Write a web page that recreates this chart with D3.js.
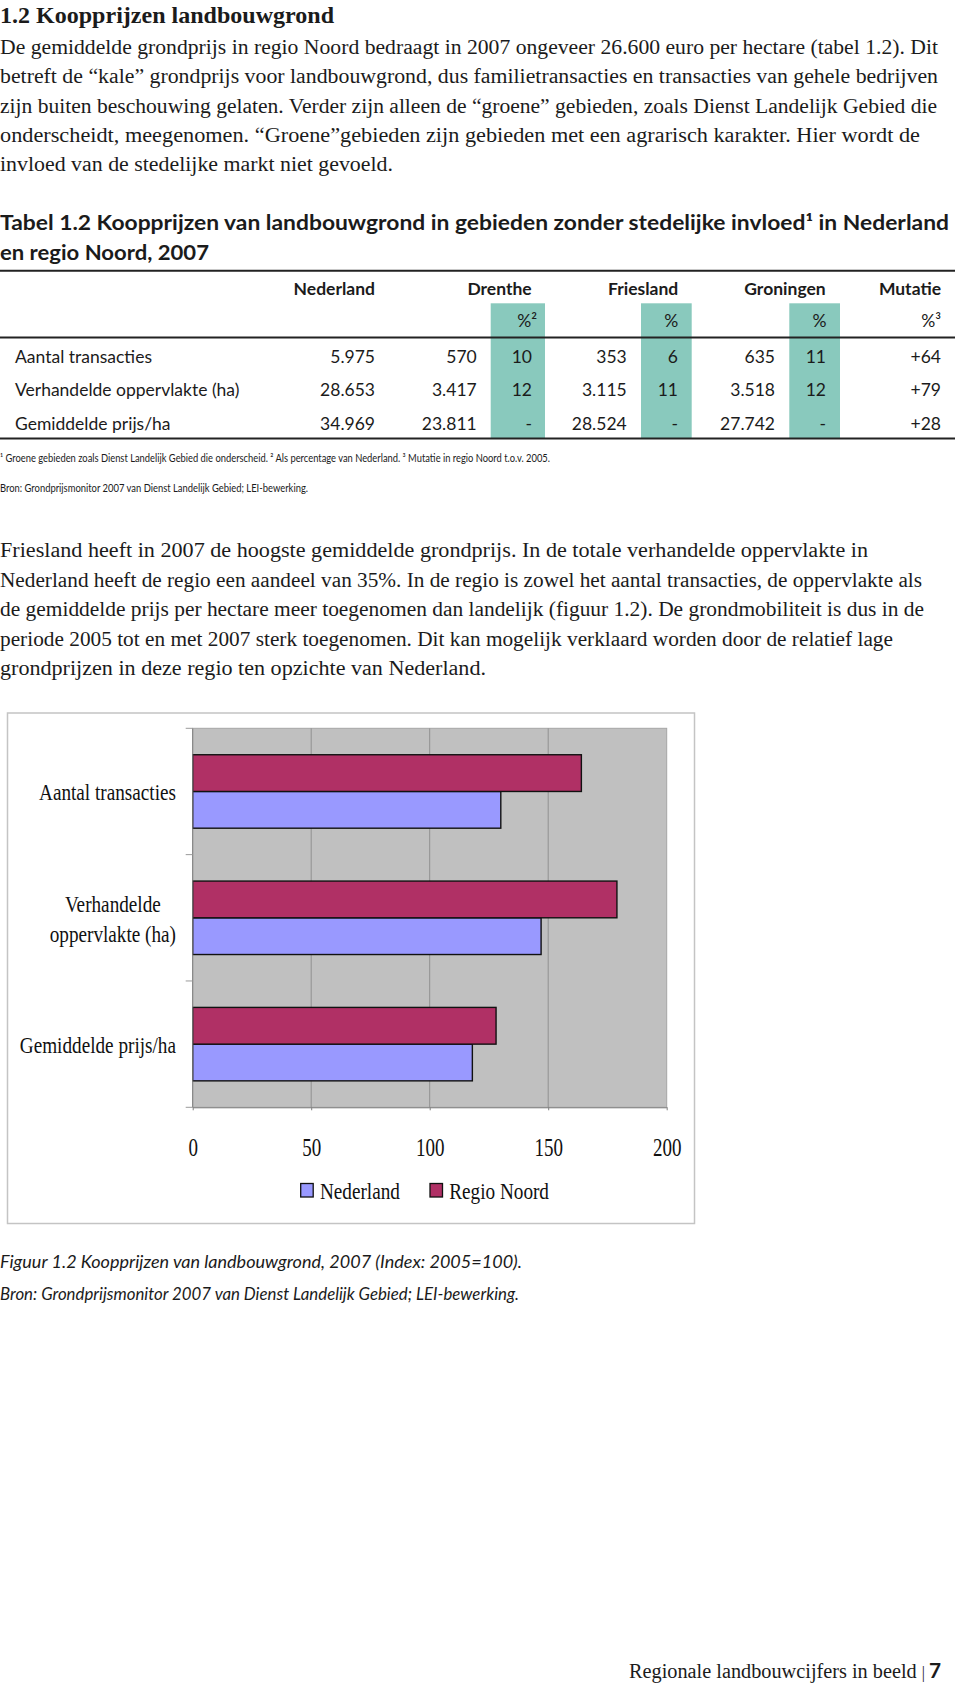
<!DOCTYPE html>
<html>
<head>
<meta charset="utf-8">
<script src="https://cdn.jsdelivr.net/npm/d3@7"></script>
<style>
  html, body { margin: 0; padding: 0; background: #fff; }
  svg { display: block; }
</style>
</head>
<body>
<svg id="page" width="960" height="1692"></svg>
<script>
// ---------------- DATA ----------------
const sectionTitle = "1.2 Koopprijzen landbouwgrond";
const bodyTop = [
  "De gemiddelde grondprijs in regio Noord bedraagt in 2007 ongeveer 26.600 euro per hectare (tabel 1.2). Dit",
  "betreft de “kale” grondprijs voor landbouwgrond, dus familietransacties en transacties van gehele bedrijven",
  "zijn buiten beschouwing gelaten. Verder zijn alleen de “groene” gebieden, zoals Dienst Landelijk Gebied die",
  "onderscheidt, meegenomen. “Groene”gebieden zijn gebieden met een agrarisch karakter. Hier wordt de",
  "invloed van de stedelijke markt niet gevoeld."
];
const tableTitle = [
  "Tabel 1.2 Koopprijzen van landbouwgrond in gebieden zonder stedelijke invloed¹ in Nederland",
  "en regio Noord, 2007"
];
const tableHeaders = ["Nederland", "Drenthe", "Friesland", "Groningen", "Mutatie"];
const tableSubHeaders = ["%²", "%", "%", "%³"];
const tableRows = ["Aantal transacties", "Verhandelde oppervlakte (ha)", "Gemiddelde prijs/ha"];
const colNederland = ["5.975", "28.653", "34.969"];
const colDrenthe = ["570", "3.417", "23.811"];
const colDrenthePct = ["10", "12", "-"];
const colFriesland = ["353", "3.115", "28.524"];
const colFrieslandPct = ["6", "11", "-"];
const colGroningen = ["635", "3.518", "27.742"];
const colGroningenPct = ["11", "12", "-"];
const colMutatie = ["+64", "+79", "+28"];
const tableNote = "¹ Groene gebieden zoals Dienst Landelijk Gebied die onderscheid. ² Als percentage van Nederland. ³ Mutatie in regio Noord t.o.v. 2005.";
const tableSource = "Bron: Grondprijsmonitor 2007 van Dienst Landelijk Gebied; LEI-bewerking.";
const bodyBottom = [
  "Friesland heeft in 2007 de hoogste gemiddelde grondprijs. In de totale verhandelde oppervlakte in",
  "Nederland heeft de regio een aandeel van 35%. In de regio is zowel het aantal transacties, de oppervlakte als",
  "de gemiddelde prijs per hectare meer toegenomen dan landelijk (figuur 1.2). De grondmobiliteit is dus in de",
  "periode 2005 tot en met 2007 sterk toegenomen. Dit kan mogelijk verklaard worden door de relatief lage",
  "grondprijzen in deze regio ten opzichte van Nederland."
];
// chart data
const categories = ["Aantal transacties", "Verhandelde oppervlakte (ha)", "Gemiddelde prijs/ha"];
const categoryLines = [["Aantal transacties"], ["Verhandelde", "oppervlakte (ha)"], ["Gemiddelde prijs/ha"]];
const seriesNames = ["Nederland", "Regio Noord"];
const valuesNederland = [130, 147, 118];
const valuesRegioNoord = [164, 179, 128];
const xTicks = [0, 50, 100, 150, 200];
const figCaption = [
  "Figuur 1.2 Koopprijzen van landbouwgrond, 2007 (Index: 2005=100).",
  "Bron: Grondprijsmonitor 2007 van Dienst Landelijk Gebied; LEI-bewerking."
];
const footerText = "Regionale landbouwcijfers in beeld";
const footerPage = "7";

// ---------------- LAYOUT / STYLE ----------------
const SERIF = "'Liberation Serif', 'DejaVu Serif', serif";
const SANS = "Lato, 'Noto Sans', sans-serif";
const INK = "#1b1b1b";
const topWidths = [938, 938, 937, 920, 393];
const bottomWidths = [868, 922, 924, 893, 486];

const svg = d3.select("#page");
svg.append("rect").attr("width", 960).attr("height", 1692).attr("fill", "#fff");

function fitText(g, s, x, y, o) {
  const t = g.append("text").attr("x", x).attr("y", y).text(s)
    .attr("font-family", o.family).attr("font-size", o.size)
    .attr("fill", o.fill || INK);
  if (o.weight) t.attr("font-weight", o.weight);
  if (o.style) t.attr("font-style", o.style);
  if (o.anchor) t.attr("text-anchor", o.anchor);
  if (o.len) t.attr("textLength", o.len).attr("lengthAdjust", "spacingAndGlyphs");
  return t;
}

// ---- Section title and intro text
fitText(svg, sectionTitle, 0, 23, {family: SERIF, size: 23, weight: "bold", len: 334});
bodyTop.forEach((s, i) => fitText(svg, s, 0, 54 + i * 29.3, {family: SERIF, size: 20.5, len: topWidths[i]}));

// ---- Table
const tbl = svg.append("g");
fitText(tbl, tableTitle[0], 0, 230, {family: SANS, size: 20, weight: "bold", len: 949});
fitText(tbl, tableTitle[1], 0, 260, {family: SANS, size: 20, weight: "bold", len: 209});

const tealBoxes = [[490.7, 545], [641, 691.7], [789.3, 840]];
tbl.selectAll("rect.teal").data(tealBoxes).join("rect").attr("class", "teal")
  .attr("x", d => d[0]).attr("width", d => d[1] - d[0])
  .attr("y", 303.3).attr("height", 438.5 - 303.3)
  .attr("fill", "#89c9bd");

[270.7, 337.5, 438.5].forEach(yy => {
  tbl.append("line").attr("x1", 0).attr("x2", 955).attr("y1", yy).attr("y2", yy)
    .attr("stroke", "#222").attr("stroke-width", 2);
});

const headerRight = [375, 531.7, 678.3, 825.7, 941];
tableHeaders.forEach((h, i) => fitText(tbl, h, headerRight[i], 295, {family: SANS, size: 17.5, weight: "bold", anchor: "end"}));
const subRight = [537, 678.3, 826.5, 941];
tableSubHeaders.forEach((h, i) => fitText(tbl, h, subRight[i], 327, {family: SANS, size: 17.5, anchor: "end"}));

const rowY = [362.8, 396.2, 429.5];
const cols = [
  [colNederland, 375], [colDrenthe, 476.7], [colDrenthePct, 532],
  [colFriesland, 626.7], [colFrieslandPct, 678], [colGroningen, 775],
  [colGroningenPct, 826], [colMutatie, 941]
];
tableRows.forEach((r, i) => {
  fitText(tbl, r, 15, rowY[i], {family: SANS, size: 17.5});
  cols.forEach(([col, xr]) => fitText(tbl, col[i], xr, rowY[i], {family: SANS, size: 17.5, anchor: "end"}));
});
fitText(tbl, tableNote, 0, 462, {family: SANS, size: 10.5, len: 550});
fitText(tbl, tableSource, 0, 491.5, {family: SANS, size: 10.5, len: 308});

// ---- Second body text
bodyBottom.forEach((s, i) => fitText(svg, s, 0, 557 + i * 29.5, {family: SERIF, size: 20.5, len: bottomWidths[i]}));

// ---------------- CHART ----------------
const chart = svg.append("g");
// outer frame
chart.append("rect").attr("x", 7.5).attr("y", 713).attr("width", 687).attr("height", 510.5)
  .attr("fill", "#fff").attr("stroke", "#c4c4c4").attr("stroke-width", 1.5);

const plot = {left: 192.7, right: 666.7, top: 728.3, bottom: 1107.3};
const x = d3.scaleLinear().domain([0, 200]).range([plot.left, plot.right]);
const y = d3.scaleBand().domain(categories).range([plot.top, plot.bottom]).padding(0);
const ySeries = d3.scaleBand().domain(["Regio Noord", "Nederland"]).range([0, y.bandwidth()])
  .paddingInner(0).paddingOuter(0.72);
const colors = {"Nederland": "#9999ff", "Regio Noord": "#b03065"};

chart.append("rect").attr("x", plot.left).attr("y", plot.top)
  .attr("width", plot.right - plot.left).attr("height", plot.bottom - plot.top)
  .attr("fill", "#c0c0c0").attr("stroke", "#a6a6a6").attr("stroke-width", 1);

// gridlines
chart.selectAll("line.grid").data(xTicks.slice(1, -1)).join("line").attr("class", "grid")
  .attr("x1", d => x(d)).attr("x2", d => x(d))
  .attr("y1", plot.top).attr("y2", plot.bottom)
  .attr("stroke", "#909090").attr("stroke-width", 1);

// bars
const barData = [];
categories.forEach((c, i) => {
  barData.push({cat: c, series: "Nederland", value: valuesNederland[i]});
  barData.push({cat: c, series: "Regio Noord", value: valuesRegioNoord[i]});
});
chart.selectAll("rect.bar").data(barData).join("rect").attr("class", "bar")
  .attr("x", x(0))
  .attr("y", d => y(d.cat) + ySeries(d.series))
  .attr("width", d => x(d.value) - x(0))
  .attr("height", ySeries.bandwidth())
  .attr("fill", d => colors[d.series])
  .attr("stroke", "#111")
  .attr("stroke-width", 1.4);

// x axis
const xAxis = d3.axisBottom(x).tickValues(xTicks).tickSize(3).tickSizeOuter(0).tickFormat(d3.format("d"));
const gx = chart.append("g").attr("transform", `translate(0,${plot.bottom})`).call(xAxis);
gx.select(".domain").attr("stroke", "#808080");
gx.selectAll(".tick line").attr("stroke", "#808080");
gx.selectAll(".tick text").attr("dy", null).attr("y", 48.5)
  .attr("font-family", SERIF).attr("font-size", 25).attr("fill", "#111")
  .attr("transform", "scale(0.76,1)");

// y axis (line + boundary ticks)
chart.append("line").attr("x1", plot.left).attr("x2", plot.left)
  .attr("y1", plot.top).attr("y2", plot.bottom).attr("stroke", "#808080");
const bounds = categories.map(c => y(c)).concat([y(categories[categories.length - 1]) + y.bandwidth()]);
chart.selectAll("line.ytick").data(bounds).join("line").attr("class", "ytick")
  .attr("x1", plot.left - 7).attr("x2", plot.left).attr("y1", d => d).attr("y2", d => d)
  .attr("stroke", "#9a9a9a");

// category labels (block centered, right-aligned at 176)
const labelRight = 176, sx = 0.8, catSize = 24, catLead = 30;
categories.forEach((c, i) => {
  const lines = categoryLines[i];
  const g = chart.append("g");
  const cy = y(c) + y.bandwidth() / 2;
  const firstBase = cy + 9 - (lines.length - 1) * catLead / 2;
  const texts = lines.map((ln, k) => g.append("text").text(ln)
    .attr("font-family", SERIF).attr("font-size", catSize).attr("fill", "#111")
    .attr("text-anchor", "middle"));
  const widths = texts.map(t => t.node().getComputedTextLength() * sx);
  const blockW = d3.max(widths);
  const cx = labelRight - blockW / 2;
  texts.forEach((t, k) => t.attr("transform", `translate(${cx},${firstBase + k * catLead}) scale(${sx},1)`));
});

// legend
const legendItems = [
  {name: seriesNames[0], sq: 300.7, tx: 320},
  {name: seriesNames[1], sq: 430, tx: 449.3}
];
legendItems.forEach(d => {
  chart.append("rect").attr("x", d.sq).attr("y", 1183.5).attr("width", 12.5).attr("height", 13.5)
    .attr("fill", colors[d.name]).attr("stroke", "#111").attr("stroke-width", 1.3);
  chart.append("text").text(d.name)
    .attr("font-family", SERIF).attr("font-size", 24).attr("fill", "#111")
    .attr("transform", `translate(${d.tx},1198.8) scale(0.8,1)`);
});

// caption
fitText(svg, figCaption[0], 0, 1268, {family: SANS, size: 16.5, style: "italic", len: 522});
fitText(svg, figCaption[1], 0, 1300, {family: SANS, size: 16.5, style: "italic", len: 519});

// footer
const ft = svg.append("text").attr("x", 941).attr("y", 1678).attr("text-anchor", "end")
  .attr("font-family", SERIF).attr("font-size", 20.5).attr("fill", INK)
  .attr("textLength", 312).attr("lengthAdjust", "spacingAndGlyphs");
ft.append("tspan").text(footerText + " ");
ft.append("tspan").text("| ").attr("font-size", 16);
ft.append("tspan").text(footerPage).attr("font-weight", "bold").attr("font-family", SANS).attr("font-size", 21);
</script>
</body>
</html>
